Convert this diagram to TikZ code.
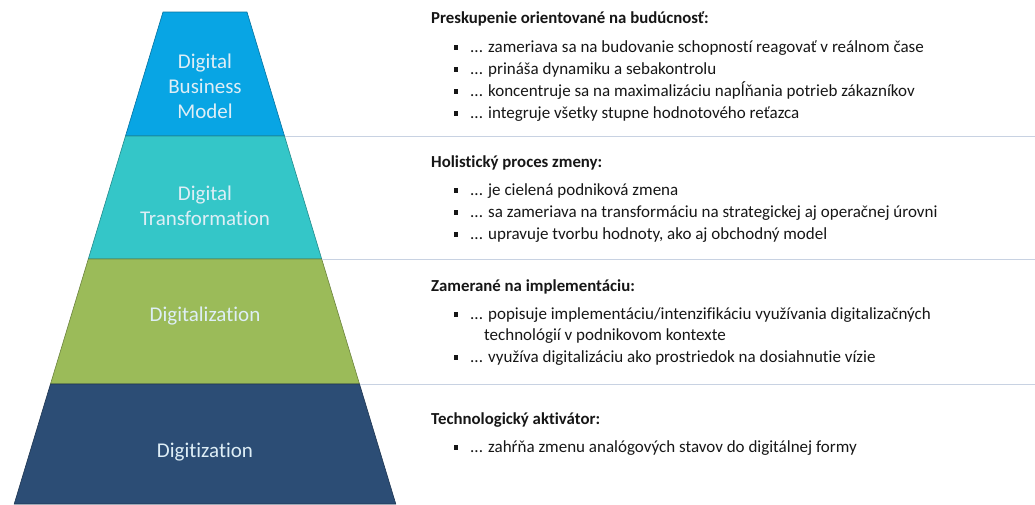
\documentclass[tikz,border=0pt]{standalone}
\usepackage{fontspec}
\setmainfont{Carlito}[Ligatures=NoCommon]
\definecolor{bmcol}{RGB}{8,165,228}
\definecolor{dtcol}{RGB}{52,198,200}
\definecolor{dlcol}{RGB}{155,187,89}
\definecolor{dgcol}{RGB}{44,77,117}
\definecolor{lblcol}{RGB}{222,238,246}
\definecolor{sepcol}{RGB}{200,210,226}
\definecolor{txtcol}{RGB}{22,22,22}
\begin{document}
\begin{tikzpicture}[x=1pt,y=-1pt,
  layer/.style={line width=0.6pt},
  lbl/.style={text=lblcol,font=\fontsize{21}{25}\selectfont,align=center,inner sep=0pt},
  head/.style={anchor=base west,inner sep=0pt,text=txtcol,font=\fontsize{16.8}{20}\selectfont\bfseries},
  item/.style={anchor=base west,inner sep=0pt,text=txtcol,font=\fontsize{17}{20}\selectfont},
  bul/.style={anchor=base west,inner sep=0pt,text=txtcol,font=\fontsize{17}{20}\selectfont},
  sep/.style={draw=sepcol,line width=0.9pt}]
\useasboundingbox (0,0) rectangle (1035,504);
% pyramid corner coordinates
\coordinate (l0) at (163,12);   \coordinate (r0) at (247,12);
\coordinate (l1) at (125.5,136);\coordinate (r1) at (284.5,136);
\coordinate (l2) at (88.3,259); \coordinate (r2) at (321.7,259);
\coordinate (l3) at (50.5,384); \coordinate (r3) at (359.5,384);
\coordinate (l4) at (14.2,504); \coordinate (r4) at (395.8,504);
\coordinate (e1) at (1035,136);
\coordinate (e2) at (1035,259);
\coordinate (e3) at (1035,384);
% layers
\draw[layer,fill=bmcol,draw=bmcol!70!black] (l0) -- (r0) -- (r1) -- (l1) -- cycle;
\draw[layer,fill=dtcol,draw=dtcol!70!black] (l1) -- (r1) -- (r2) -- (l2) -- cycle;
\draw[layer,fill=dlcol,draw=dlcol!70!black] (l2) -- (r2) -- (r3) -- (l3) -- cycle;
\draw[layer,fill=dgcol,draw=dgcol!70!black] (l3) -- (r3) -- (r4) -- (l4) -- cycle;
% separators
\draw[sep] (r1) -- (e1);
\draw[sep] (r2) -- (e2);
\draw[sep] (r3) -- (e3);
% labels
\node[lbl] (dbm) at (205,86) {Digital\\Business\\Model};
\node[lbl] (dt) at (205,206) {Digital\\Transformation};
\node[lbl] (dl) at (205,316) {Digitalization};
\node[lbl] (dg) at (205,452) {Digitization};
% section 1
\node[head] (h1) at (431,23.5) {Preskupenie orientované na budúcnosť:};
\foreach \yy/\tt [count=\i] in {52/{... zameriava sa na budovanie schopností reagovať v reálnom čase},
  74/{... prináša dynamiku a sebakontrolu},
  96/{... koncentruje sa na maximalizáciu napĺňania potrieb zákazníkov},
  118/{... integruje všetky stupne hodnotového reťazca}}{
  \node[bul] (b1\i) at (453.5,\yy) {\rule[2.5pt]{4.7pt}{4.7pt}};
  \node[item] (t1\i) at (470,\yy) {\tt};
}
% section 2
\node[head] (h2) at (431,167.5) {Holistický proces zmeny:};
\foreach \yy/\tt [count=\i] in {195/{... je cielená podniková zmena},
  217/{... sa zameriava na transformáciu na strategickej aj operačnej úrovni},
  239/{... upravuje tvorbu hodnoty, ako aj obchodný model}}{
  \node[bul] (b2\i) at (453.5,\yy) {\rule[2.5pt]{4.7pt}{4.7pt}};
  \node[item] (t2\i) at (470,\yy) {\tt};
}
% section 3
\node[head] (h3) at (431,291) {Zamerané na implementáciu:};
\node[bul] (b31) at (453.5,319) {\rule[2.5pt]{4.7pt}{4.7pt}};
\node[item] (t31) at (470,319) {... popisuje implementáciu/intenzifikáciu využívania digitalizačných};
\node[item] (t31b) at (484,340) {technológií v podnikovom kontexte};
\node[bul] (b32) at (453.5,362) {\rule[2.5pt]{4.7pt}{4.7pt}};
\node[item] (t32) at (470,362) {... využíva digitalizáciu ako prostriedok na dosiahnutie vízie};
% section 4
\node[head] (h4) at (431,424) {Technologický aktivátor:};
\node[bul] (b41) at (453.5,452) {\rule[2.5pt]{4.7pt}{4.7pt}};
\node[item] (t41) at (470,452) {... zahŕňa zmenu analógových stavov do digitálnej formy};
\end{tikzpicture}
\end{document}
